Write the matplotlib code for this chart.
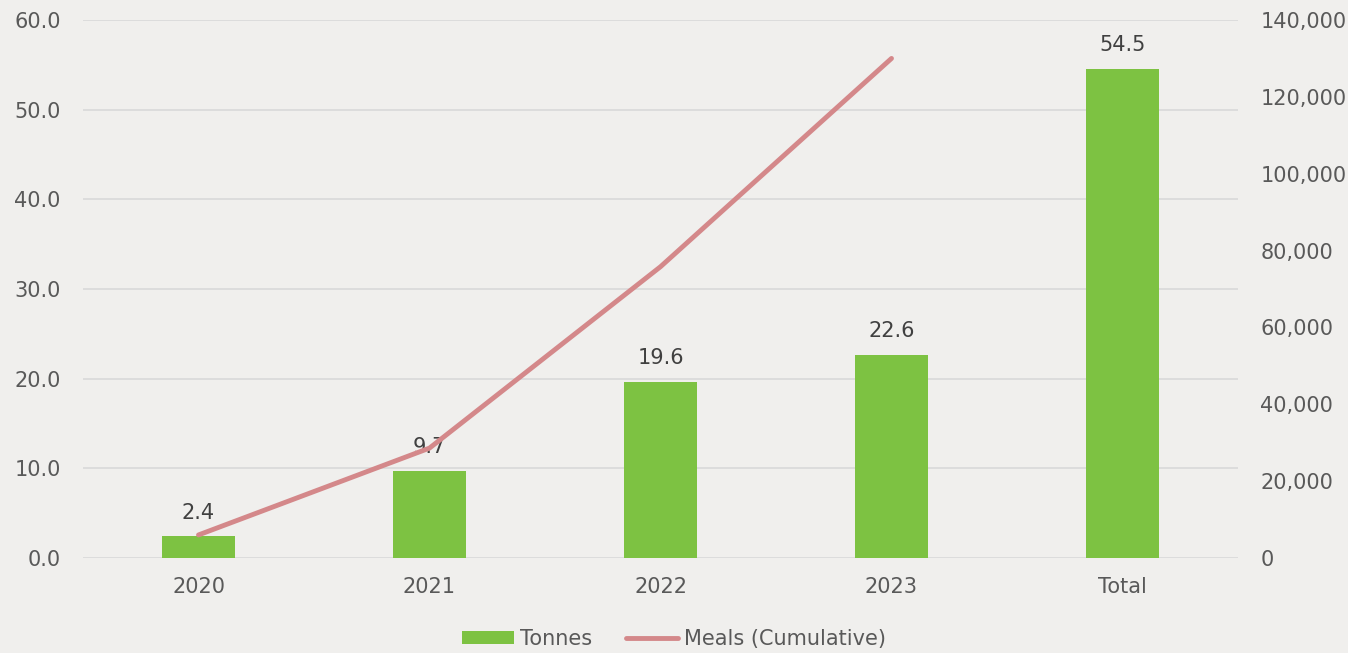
import matplotlib
matplotlib.use("Agg")
import matplotlib.pyplot as plt
from matplotlib.ticker import FuncFormatter, MultipleLocator
from matplotlib.lines import Line2D
from matplotlib.patches import Patch

categories = ["2020", "2021", "2022", "2023", "Total"]
tonnes = [2.4, 9.7, 19.6, 22.6, 54.5]
meal_years = ["2020", "2021", "2022", "2023"]
meals_cumulative = [6000, 28600, 75800, 130000]

BG = "#F0EFED"
BAR = "#7DC242"
LINE = "#D4888A"
TICK = "#595959"
LABEL = "#404040"
GRID = "#D9D9D9"

plt.rcParams["font.family"] = ["DejaVu Sans"]
FS = 15

fig = plt.figure(figsize=(13.48, 6.53), dpi=100, facecolor=BG)
ax = fig.add_axes([83/1348, 1-558/653, (1238-83)/1348, (558-20)/653])
ax.set_facecolor(BG)

x = list(range(len(categories)))
ax.bar(x, tonnes, width=0.315, color=BAR, zorder=2)
for xi, v in zip(x, tonnes):
    ax.annotate(f"{v:.1f}", (xi, v), xytext=(0, 10), textcoords="offset points",
                ha="center", va="bottom", fontsize=FS, color=LABEL, zorder=5)

ax.set_xlim(-0.5, len(categories) - 0.5)
ax.set_ylim(0, 60)
ax.yaxis.set_major_locator(MultipleLocator(10))
ax.yaxis.set_major_formatter(FuncFormatter(lambda v, p: f"{v:.1f}"))
ax.set_xticks(x)
ax.set_xticklabels(categories)
ax.grid(axis="y", color=GRID, linewidth=1.2, zorder=0)
ax.set_axisbelow(True)
for s in ax.spines.values():
    s.set_visible(False)
ax.tick_params(axis="both", length=0, labelsize=FS, labelcolor=TICK)
ax.tick_params(axis="y", pad=16)
ax.tick_params(axis="x", pad=14)

ax2 = ax.twinx()
ax2.set_ylim(0, 140000)
ax2.yaxis.set_major_locator(MultipleLocator(20000))
ax2.yaxis.set_major_formatter(FuncFormatter(lambda v, p: f"{int(v):,}"))
ax2.plot(range(len(meal_years)), meals_cumulative, color=LINE, linewidth=3.5,
         solid_capstyle="round", zorder=3)
for s in ax2.spines.values():
    s.set_visible(False)
ax2.tick_params(axis="y", length=0, labelsize=FS, labelcolor=TICK, pad=16)

handles = [Patch(facecolor=BAR, edgecolor="none", label="Tonnes"),
           Line2D([0], [0], color=LINE, linewidth=3.5, solid_capstyle="round",
                  label="Meals (Cumulative)")]
leg = fig.legend(handles=handles, loc="lower center", bbox_to_anchor=(0.5, -0.022),
                 ncol=2, frameon=False, fontsize=FS, handlelength=2.5,
                 handleheight=0.6, columnspacing=1.6, handletextpad=0.3)
for t in leg.get_texts():
    t.set_color(TICK)

fig.savefig("out.png", dpi=100, facecolor=BG)
